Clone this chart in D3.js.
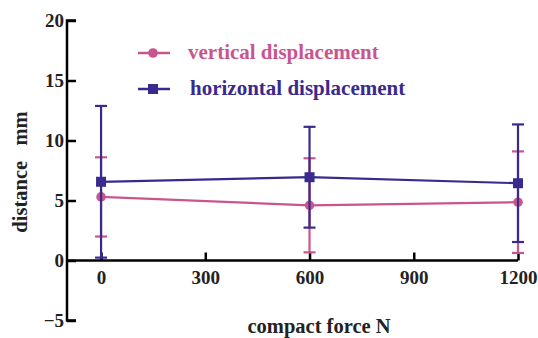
<!DOCTYPE html>
<html><head><meta charset="utf-8">
<script src="https://cdn.jsdelivr.net/npm/d3@7"></script>
<style>body{margin:0;background:#fff;}svg{display:block;}svg text{font-family:"Liberation Serif","Times New Roman",serif;font-weight:bold;}</style>
</head><body><svg id="c" width="538" height="338"></svg>
<script>
const forces = [0, 600, 1200];
const verticalMean = [5.3, 4.6, 4.86];
const verticalErr = [3.3, 3.92, 4.23];
const horizontalMean = [6.56, 6.94, 6.44];
const horizontalErr = [6.32, 4.2, 4.9];
const xTicks = [0, 300, 600, 900, 1200];
const yTicks = [-5, 0, 5, 10, 15, 20];
const seriesNames = ["vertical displacement", "horizontal displacement"];
const colors = ["#c9558e", "#3a2a8e"];

const svg = d3.select("#c");
const x = d3.scaleLinear().domain([-98, 1200]).range([67, 518]);
const y = d3.scaleLinear().domain([-5, 20]).range([320.5, 20.5]);

// y axis
const yAxis = svg.append("g").attr("transform", `translate(${x(-98)},0)`)
  .call(d3.axisLeft(y).tickValues(yTicks).tickSize(-9).tickPadding(5).tickFormat(d => d < 0 ? "\u2212" + Math.abs(d) : String(d)));
yAxis.attr("font-family", null);
yAxis.select(".domain").attr("d", `M9,${y(20)}H0V${y(-5)}H9`).attr("stroke", "#000").attr("stroke-width", 2.5);
yAxis.selectAll(".tick line").attr("stroke-width", 2.5);
yAxis.selectAll("text").attr("font-size", 19).attr("fill", "#222").attr("dy", "0.33em").attr("x", -3);

// x axis
const xAxis = svg.append("g").attr("transform", `translate(0,${y(0)})`)
  .call(d3.axisBottom(x).tickValues(xTicks).tickSize(-8).tickPadding(10).tickFormat(d => String(d)));
xAxis.attr("font-family", null);
xAxis.select(".domain").attr("d", `M${x(-98)},0H${x(1200)}`).attr("stroke", "#000").attr("stroke-width", 2.5);
xAxis.selectAll(".tick line").attr("stroke-width", 2.5);
xAxis.selectAll("text").attr("font-size", 19).attr("fill", "#222").attr("y", 10);

// axis titles
svg.append("text").attr("transform", `translate(27,172) rotate(-90)`).attr("text-anchor", "middle")
  .attr("font-size", 20.5).attr("fill", "#222").text("distance\u00a0\u00a0\u00a0mm");
svg.append("text").attr("x", 319).attr("y", 333).attr("text-anchor", "middle")
  .attr("font-size", 20.5).attr("fill", "#222").text("compact force N");

const series = [
  {name: seriesNames[0], mean: verticalMean, err: verticalErr, color: colors[0], shape: "circle"},
  {name: seriesNames[1], mean: horizontalMean, err: horizontalErr, color: colors[1], shape: "square"}
];

const line = d3.line().x(d => x(d[0])).y(d => y(d[1]));
series.forEach(s => {
  const g = svg.append("g");
  const pts = forces.map((f, i) => [f, s.mean[i], s.err[i]]);
  pts.forEach(p => {
    const cx = x(p[0]);
    g.append("line").attr("x1", cx).attr("x2", cx).attr("y1", y(p[1] + p[2])).attr("y2", y(p[1] - p[2]))
      .attr("stroke", s.color).attr("stroke-width", 2.2);
    [p[1] + p[2], p[1] - p[2]].forEach(v => {
      g.append("line").attr("x1", cx - 6).attr("x2", cx + 6).attr("y1", y(v)).attr("y2", y(v))
        .attr("stroke", s.color).attr("stroke-width", 2.2);
    });
  });
  g.append("path").attr("d", line(pts)).attr("fill", "none").attr("stroke", s.color).attr("stroke-width", 2.2);
  pts.forEach(p => {
    if (s.shape === "circle") g.append("circle").attr("cx", x(p[0])).attr("cy", y(p[1])).attr("r", 4.8).attr("fill", s.color);
    else g.append("rect").attr("x", x(p[0]) - 5).attr("y", y(p[1]) - 5).attr("width", 10).attr("height", 10).attr("fill", s.color);
  });
});

// legend
const legY = [53, 89];
series.forEach((s, i) => {
  const g = svg.append("g");
  g.append("line").attr("x1", 138).attr("x2", 170).attr("y1", legY[i]).attr("y2", legY[i]).attr("stroke", s.color).attr("stroke-width", 2.5);
  if (s.shape === "circle") g.append("circle").attr("cx", 153).attr("cy", legY[i]).attr("r", 4.8).attr("fill", s.color);
  else g.append("rect").attr("x", 148).attr("y", legY[i] - 5).attr("width", 10).attr("height", 10).attr("fill", s.color);
  g.append("text").attr("x", i === 0 ? 188 : 190).attr("y", legY[i]).attr("dy", "0.3em").attr("font-size", 21)
    .attr("fill", s.color).text(s.name);
});
</script></body></html>
